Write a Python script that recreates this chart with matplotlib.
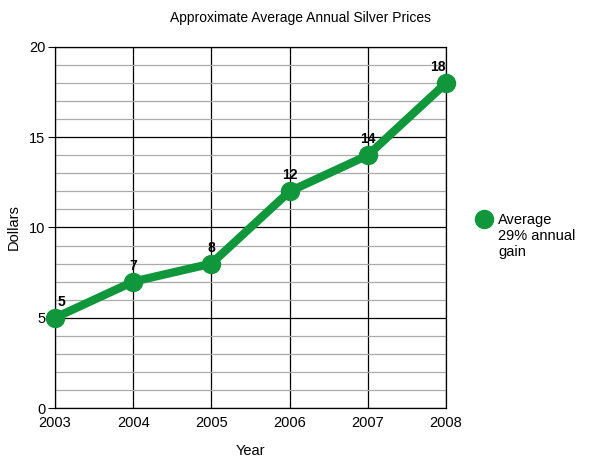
import matplotlib.pyplot as plt
from matplotlib.ticker import MultipleLocator

plt.rcParams['font.family'] = ['Liberation Sans', 'DejaVu Sans']

years = [2003, 2004, 2005, 2006, 2007, 2008]
prices = [5, 7, 8, 12, 14, 18]
legend_label = "Average\n29% annual\ngain"
green = '#10973b'

fig = plt.figure(figsize=(6, 4.63), dpi=100)
ax = fig.add_axes([55/600, 1 - 408/463, (446-55)/600, (408-47)/463])

ax.plot(years, prices, color=green, linewidth=6, marker='o', markersize=13,
        clip_on=False, zorder=5)
for i, (x, y) in enumerate(zip(years, prices)):
    ha, dx = 'center', 0
    if i == 0:
        ha, dx = 'left', 2
    elif i == len(years) - 1:
        ha = 'right'
    ax.annotate(str(y), (x, y), xytext=(dx, 11.5), textcoords='offset points',
                ha=ha, va='center', fontsize=10, fontweight='bold')

ax.set_xlim(2003, 2008)
ax.set_ylim(0, 20)
ax.xaxis.set_major_locator(MultipleLocator(1))
ax.yaxis.set_major_locator(MultipleLocator(5))
ax.yaxis.set_minor_locator(MultipleLocator(1))
ax.grid(True, which='major', color='black', linewidth=0.9)
ax.grid(True, which='minor', axis='y', color='#aaaaaa', linewidth=0.9)
ax.set_axisbelow(True)
ax.tick_params(axis='x', length=0, labelsize=10.5, pad=6)
ax.tick_params(axis='y', which='major', length=5, labelsize=10.5, pad=2)
ax.tick_params(axis='y', which='minor', length=0)
for s in ax.spines.values():
    s.set_color('black')
    s.set_linewidth(0.9)

ax.set_xlabel('Year', fontsize=10.5, labelpad=10)
ax.set_ylabel('Dollars', fontsize=10.5, labelpad=6)
fig.text(0.5, 1 - 18/463, 'Approximate Average Annual Silver Prices',
         ha='center', va='center', fontsize=10)

fig.lines.append(plt.Line2D([484/600], [1 - 219/463], transform=fig.transFigure,
                            marker='o', markersize=13, color=green, linestyle='none'))
fig.text(498/600, 1 - 236/463, legend_label, ha='left', va='center',
         fontsize=10.5, linespacing=1.15)

fig.savefig('out.png', dpi=100)
